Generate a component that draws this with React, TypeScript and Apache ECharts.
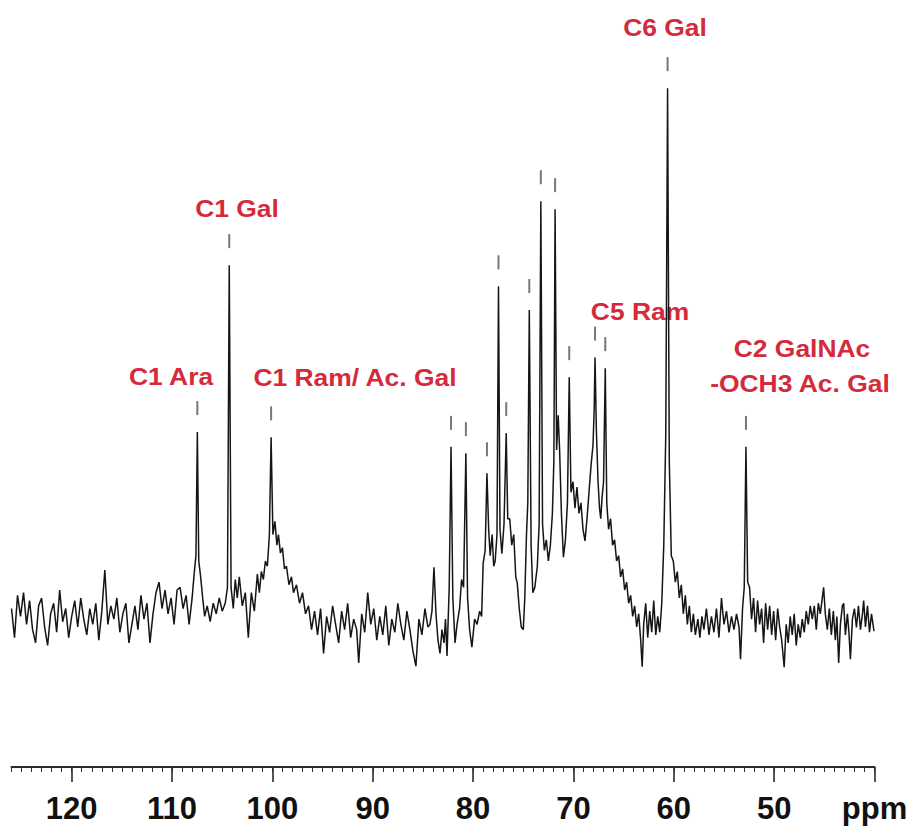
import React, { useEffect, useRef } from "react";
import * as echarts from "echarts";

// 13C NMR spectrum, [ppm, intensity] (C6 Gal ~ 100)
const baselineLeft: number[][] = [
  [126.0, 2], [125.7, -3.5], [125.4, 4.5], [125.1, 0.5], [124.8, 5], [124.5, -1], [124.2, 3.5],
  [123.9, -2], [123.6, -4.5], [123.3, 2.5], [123.0, 4], [122.7, -1.5], [122.4, -5], [122.1, 1],
  [121.8, 3], [121.5, -2.5], [121.2, 5.5], [120.9, -0.5], [120.6, 2], [120.3, -3.5], [120.0, 0.5],
  [119.7, 3.5], [119.4, -1.5], [119.1, 4], [118.8, 0], [118.5, -3], [118.2, 2], [117.9, -1],
  [117.6, 3], [117.3, -4], [117.0, 1.5], [116.7, 9.3], [116.4, -1], [116.1, 2.5], [115.8, 0],
  [115.5, 4], [115.2, -2.5], [114.9, 1], [114.6, 3], [114.3, -4.5], [114.0, -1], [113.7, 2.5],
  [113.4, -2], [113.1, 4.5], [112.8, 0], [112.5, 3], [112.2, -4.5], [111.9, 1], [111.6, 5],
  [111.3, 7], [111.0, 2], [110.7, 5.5], [110.4, 1], [110.1, 4], [109.8, -1], [109.5, 5.5],
  [109.2, 6], [108.9, 2], [108.6, 4.5], [108.3, -1],
];

const anomericRegion: number[][] = [
  [108.0, 4], [107.8, 8.5], [107.62, 12], [107.48, 35.4], [107.34, 11], [107.15, 8], [106.95, 4],
  [106.75, 0.5], [106.5, 2.5], [106.2, -0.5], [105.9, 3], [105.6, 1], [105.3, 4], [105.0, 1.5],
  [104.7, 3], [104.48, 6], [104.3, 67], [104.12, 6], [103.9, 2], [103.7, 7.5], [103.5, 4],
  [103.3, 8], [103.0, 2.5], [102.7, 5], [102.4, -3.5], [102.1, 5], [101.8, 1.5], [101.5, 8.5],
  [101.3, 5], [101.1, 9], [100.9, 7.5], [100.7, 11], [100.5, 10], [100.3, 16], [100.13, 34.4],
  [99.95, 16], [99.75, 18.5], [99.55, 14], [99.4, 16], [99.2, 12.5], [99.0, 13.5], [98.8, 9.5],
  [98.6, 10], [98.35, 6.5], [98.1, 8], [97.9, 5], [97.6, 6.5], [97.3, 3], [97.0, 5], [96.7, 1],
  [96.4, 2.5],
];

const baselineMid: number[][] = [
  [96.1, -2], [95.8, 1.5], [95.5, -3], [95.2, 2], [94.9, -6.5], [94.6, 0.5], [94.3, -2.5],
  [94.0, 2.5], [93.7, -1], [93.4, -4.5], [93.1, 1.5], [92.8, -2], [92.5, 3], [92.2, -3.5],
  [91.9, 0], [91.6, -2], [91.4, -8.3], [91.1, 1], [90.8, -2.5], [90.5, 5], [90.2, -1], [89.9, 2],
  [89.6, -4], [89.3, 0.5], [89.0, -3], [88.7, 2.5], [88.4, -5], [88.1, 0], [87.8, -2.5],
  [87.5, 3], [87.2, -1], [86.9, -4], [86.6, 1.5], [86.3, -2], [86.0, -6], [85.7, -8.9],
  [85.4, 0], [85.1, -3], [84.8, 2], [84.5, -1.5],
];

const ringRegion: number[][] = [
  [84.3, -1], [84.1, 1.5], [83.9, 9.8], [83.7, 1], [83.5, -4], [83.3, -6.5], [83.1, -2],
  [82.9, -4.5], [82.75, 0], [82.6, -7], [82.38, 6], [82.2, 32.6], [82.02, 4], [81.8, -4.5],
  [81.6, -1], [81.35, 2], [81.15, 7.5], [80.95, 6], [80.72, 31.4], [80.55, 4], [80.35, -2],
  [80.12, -5.3], [79.85, 0], [79.6, -1], [79.35, 1.5], [79.15, 0.5], [79.0, 10.5], [78.8, 13],
  [78.62, 27.6], [78.45, 17], [78.3, 12], [78.1, 16], [77.95, 10], [77.8, 11], [77.62, 16],
  [77.47, 63], [77.32, 17], [77.13, 12.4], [76.92, 18], [76.7, 35.2], [76.55, 19], [76.35, 19],
  [76.15, 14], [75.95, 16], [75.75, 8], [75.6, 6.8], [75.4, 2], [75.2, -1.5], [75.0, -2],
  [74.85, 4], [74.68, 16], [74.55, 22], [74.4, 58.5], [74.22, 14], [74.05, 5], [73.85, 6],
  [73.6, 10], [73.42, 18], [73.25, 79.1], [73.08, 18], [72.9, 13], [72.7, 15], [72.5, 11],
  [72.3, 14], [72.1, 20], [71.95, 30], [71.83, 77.6], [71.68, 32], [71.52, 38.6], [71.38, 32],
  [71.2, 20], [71.0, 11.7], [70.8, 15], [70.6, 22], [70.42, 45.8], [70.25, 24], [70.05, 26],
  [69.85, 21], [69.65, 25], [69.45, 20], [69.25, 22], [69.05, 17], [68.85, 14.8], [68.65, 19],
  [68.45, 24], [68.25, 29], [68.05, 33], [67.93, 40], [67.85, 49.5], [67.72, 36], [67.55, 26],
  [67.4, 21], [67.28, 19], [67.15, 23], [67.0, 26], [66.83, 47.5], [66.68, 22], [66.5, 17],
  [66.3, 19], [66.1, 14], [65.9, 15], [65.7, 11], [65.5, 12], [65.3, 8], [65.1, 9.5], [64.9, 5.5],
  [64.7, 7], [64.5, 3], [64.3, 4.5], [64.1, 0.5], [63.9, 2.5], [63.7, -1.5], [63.5, 1],
  [63.3, -4], [63.15, -9],
];

const upfieldRegion: number[][] = [
  [63.0, -1], [62.8, 3], [62.6, -3.5], [62.4, 1.5], [62.2, -2.5], [62.0, 3.5], [61.8, -3],
  [61.6, 0.5], [61.4, -2.5], [61.2, 3], [61.0, 14], [60.8, 35], [60.62, 100.5], [60.45, 30],
  [60.25, 12], [60.05, 11], [59.85, 7], [59.65, 9], [59.45, 4], [59.25, 6.5], [59.05, 1],
  [58.85, 4.5], [58.65, -1], [58.45, 2.5], [58.25, -2.5], [58.05, 1], [57.85, -3], [57.6, 0],
  [57.4, -3.5], [57.2, 0.5], [57.0, -2], [56.75, 2], [56.5, -3], [56.25, 0.5], [56.0, -2.5],
  [55.75, 2], [55.5, -3.5], [55.25, 4], [55.0, -1], [54.75, 1.5], [54.5, -2.5], [54.25, 0.5],
  [54.0, -2], [53.75, 1], [53.5, -1.5], [53.35, -7.6], [53.15, 2], [52.98, 6], [52.81, 32.6],
  [52.64, 7], [52.45, 6], [52.25, 0], [52.05, 4], [51.85, -2.5], [51.65, 3.5], [51.45, -1],
  [51.25, 2], [51.05, -4.5], [50.85, 3], [50.65, -2], [50.45, 2.5], [50.25, -3], [50.05, 1.5],
  [49.85, -4], [49.65, 2], [49.45, -1.5], [49.25, -4], [49.0, -9.1], [48.8, -1], [48.6, -4.5],
  [48.4, 0.5], [48.2, -3], [48.0, 1], [47.8, -5], [47.6, -1], [47.4, -3.5], [47.2, 0],
  [47.0, -2.5], [46.8, 1.5], [46.6, -1], [46.4, 2.5], [46.2, 0], [46.0, 2.5], [45.8, -2],
  [45.6, 3], [45.4, 1], [45.2, 4], [45.07, 6], [44.9, 1], [44.7, -2], [44.5, 2], [44.3, -3],
  [44.1, 1.5], [43.9, -4], [43.75, 0.5], [43.57, -8.3], [43.4, -1], [43.2, 2.5], [43.07, 3],
  [42.9, -3], [42.7, 1], [42.55, -2.5], [42.4, -7.6], [42.2, 0], [42.0, 2], [41.8, -1.6],
  [41.6, 2.5], [41.4, -2], [41.2, 1], [41.08, 3.5], [40.9, -1.5], [40.7, 2.5], [40.5, -2.5],
  [40.3, 1], [40.05, -2.3],
];

// picked peaks (position, height) that carry a marker
const pickedPeaks: number[][] = [
  [107.48, 35.4], [104.3, 67], [100.13, 34.4], [82.2, 32.6], [80.72, 31.4], [78.62, 27.6],
  [77.47, 63], [76.7, 35.2], [74.4, 58.5], [73.25, 79.1], [71.83, 77.6], [70.42, 45.8],
  [67.85, 49.5], [66.83, 47.5], [60.62, 100.5], [52.81, 32.6],
];

const majorTicks: number[] = [120, 110, 100, 90, 80, 70, 60, 50, 40];
const unitLabel = "ppm";

const peakLabels: string[] = [
  "C1 Ara", "C1 Gal", "C1 Ram/ Ac. Gal", "C5 Ram", "C6 Gal", "C2 GalNAc", "-OCH3 Ac. Gal",
];
// layout (pixel centres) for the annotation texts, same order as peakLabels
const labelLayout: number[][] = [
  [171, 377], [237, 209], [355, 378], [640, 312], [665, 28], [802, 349], [800, 384],
];

export default function App() {
  const ref = useRef<HTMLDivElement>(null);
  useEffect(() => {
    if (!ref.current) return;
    const chart = echarts.init(ref.current, null, { renderer: "svg" });
    const spectrum = [
      ...baselineLeft,
      ...anomericRegion,
      ...baselineMid,
      ...ringRegion,
      ...upfieldRegion,
    ];
    const font = "'Liberation Sans', Arial, Helvetica, sans-serif";
    chart.setOption({
      animation: false,
      backgroundColor: "#ffffff",
      grid: { left: 11.5, right: 40.5, top: 38, bottom: 59, containLabel: false },
      xAxis: [
        {
          type: "value",
          min: 40,
          max: 126,
          interval: 1,
          inverse: true,
          position: "bottom",
          axisLine: { show: true, onZero: false, lineStyle: { color: "#2a2a2a", width: 2 } },
          axisTick: { show: true, inside: false, length: 5, lineStyle: { color: "#333", width: 1 } },
          axisLabel: { show: false },
          splitLine: { show: false },
        },
        {
          type: "value",
          min: 40,
          max: 126,
          inverse: true,
          position: "bottom",
          axisLine: { show: false, onZero: false },
          axisTick: {
            show: true,
            inside: false,
            length: 15,
            customValues: majorTicks,
            lineStyle: { color: "#2a2a2a", width: 1.6 },
          },
          axisLabel: {
            show: true,
            customValues: majorTicks,
            margin: 26,
            fontSize: 31,
            fontWeight: "bold",
            fontFamily: font,
            color: "#111",
            formatter: (v: number) => (v === 40 ? unitLabel : String(v)),
          },
          splitLine: { show: false },
        },
      ],
      yAxis: { type: "value", min: -28, max: 110, show: false, splitLine: { show: false } },
      series: [
        {
          type: "line",
          xAxisIndex: 0,
          data: spectrum,
          showSymbol: false,
          symbol: "none",
          lineStyle: { color: "#151515", width: 1.5 },
          silent: true,
          z: 2,
        },
        {
          type: "scatter",
          xAxisIndex: 0,
          data: pickedPeaks,
          symbol: "rect",
          symbolSize: [2, 14],
          symbolOffset: [0, -24],
          itemStyle: { color: "#555" },
          silent: true,
          z: 3,
        },
      ],
      graphic: peakLabels.map((t, i) => ({
        type: "text",
        x: labelLayout[i][0],
        y: labelLayout[i][1],
        scaleX: 1.15,
        silent: true,
        style: {
          text: t,
          font: `bold 23px ${font}`,
          fill: "#d42a3c",
          align: "center",
          verticalAlign: "middle",
        },
      })),
    });
    return () => chart.dispose();
  }, []);
  return (
    <div
      ref={ref}
      style={{ position: "fixed", left: 0, top: 0, width: 915, height: 826, background: "#fff" }}
    />
  );
}
